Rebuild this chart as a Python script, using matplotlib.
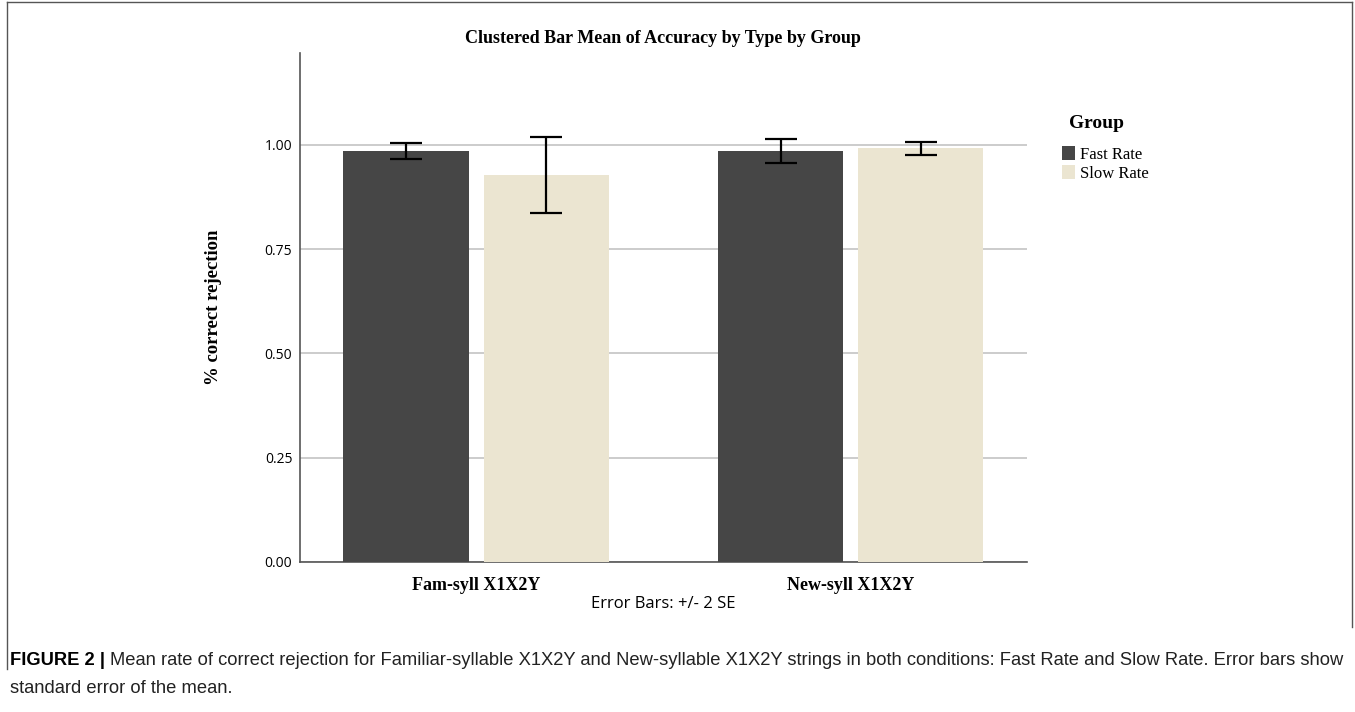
import numpy as np
import matplotlib.pyplot as plt
from matplotlib.lines import Line2D

# data
categories = ['Fam-syll X1X2Y', 'New-syll X1X2Y']
groups = ['Fast Rate', 'Slow Rate']
fast_mean = [0.986, 0.986]
slow_mean = [0.928, 0.992]
fast_err = [0.019, 0.029]
slow_err = [0.091, 0.015]
yticks = [0.00, 0.25, 0.50, 0.75, 1.00]

dark = '#464646'
cream = '#ebe5d1'
serif = ['Liberation Serif', 'DejaVu Serif']
sans = ['Open Sans', 'DejaVu Sans']
capfont = ['Liberation Sans', 'DejaVu Sans']

fig = plt.figure(figsize=(13.55, 7.12), dpi=100)
ax = fig.add_axes([0.2214, 0.2107, 0.5365, 0.7149])

x = np.arange(len(categories))
w = 0.334
off = 0.187
ax.bar(x - off, fast_mean, w, color=dark, zorder=3, label=groups[0])
ax.bar(x + off, slow_mean, w, color=cream, zorder=3, label=groups[1])
ax.errorbar(x - off, fast_mean, yerr=fast_err, fmt='none', ecolor='black',
            elinewidth=1.6, capsize=11.5, capthick=1.6, zorder=4)
ax.errorbar(x + off, slow_mean, yerr=slow_err, fmt='none', ecolor='black',
            elinewidth=1.6, capsize=11.5, capthick=1.6, zorder=4)

ax.set_xlim(-0.47, 1.471)
ax.set_ylim(0, 1.2206)
ax.set_yticks(yticks)
ax.set_yticklabels(['%.2f' % v for v in yticks], family=sans, fontsize=10)
ax.set_xticks(x)
ax.set_xticklabels(categories, family=serif, fontweight='bold', fontsize=13)
ax.tick_params(axis='y', length=0, pad=5.5)
ax.tick_params(axis='x', length=0, pad=10.5)
ax.grid(axis='y', color='#c4c4c4', linewidth=1.2, zorder=0)
for s in ['top', 'right']:
    ax.spines[s].set_visible(False)
ax.spines['left'].set_color('#555555')
ax.spines['bottom'].set_color('#555555')
ax.spines['left'].set_linewidth(1.2)
ax.spines['bottom'].set_linewidth(1.2)

ax.set_ylabel('% correct rejection', family=serif, fontweight='bold',
              fontsize=13.5, labelpad=31)

fig.text(0.4893, 0.946, 'Clustered Bar Mean of Accuracy by Type by Group',
         ha='center', va='center', family=serif, fontweight='bold', fontsize=13)
fig.text(0.4893, 0.151, 'Error Bars: +/- 2 SE', ha='center', va='center',
         family=sans, fontsize=12)

# legend
fig.text(1069 / 1355, 1 - 124 / 712, 'Group', ha='left', va='center',
         family=serif, fontweight='bold', fontsize=14)
leg = ax.legend(loc='upper left', bbox_to_anchor=(1.048, 0.817),
                frameon=False, prop={'family': serif, 'size': 12},
                handlelength=0.8, handleheight=0.9, handletextpad=0.3,
                labelspacing=0.15, borderaxespad=0, borderpad=0)

# frame of the figure panel
fig.add_artist(Line2D([0.005, 0.005], [0.06, 0.997], color='#555555', lw=1.0))
fig.add_artist(Line2D([0.005, 0.998], [0.997, 0.997], color='#555555', lw=1.0))
fig.add_artist(Line2D([0.998, 0.998], [0.12, 0.997], color='#555555', lw=1.0))

# caption
fig.canvas.draw()
r = fig.canvas.get_renderer()
t1 = fig.text(0.0075, 0.072, 'FIGURE 2 |', family=capfont, fontweight='bold',
              fontsize=13.2, va='center')
bb = t1.get_window_extent(r)
fig.text((bb.x1 + 5) / fig.bbox.width, 0.072,
         'Mean rate of correct rejection for Familiar-syllable X1X2Y and New-syllable X1X2Y '
         'strings in both conditions: Fast Rate and Slow Rate. Error bars show',
         family=capfont, fontsize=13.2, va='center', color='#222222')
fig.text(0.0075, 0.033, 'standard error of the mean.', family=capfont,
         fontsize=13.2, va='center', color='#222222')

fig.savefig('out.png', dpi=100)
